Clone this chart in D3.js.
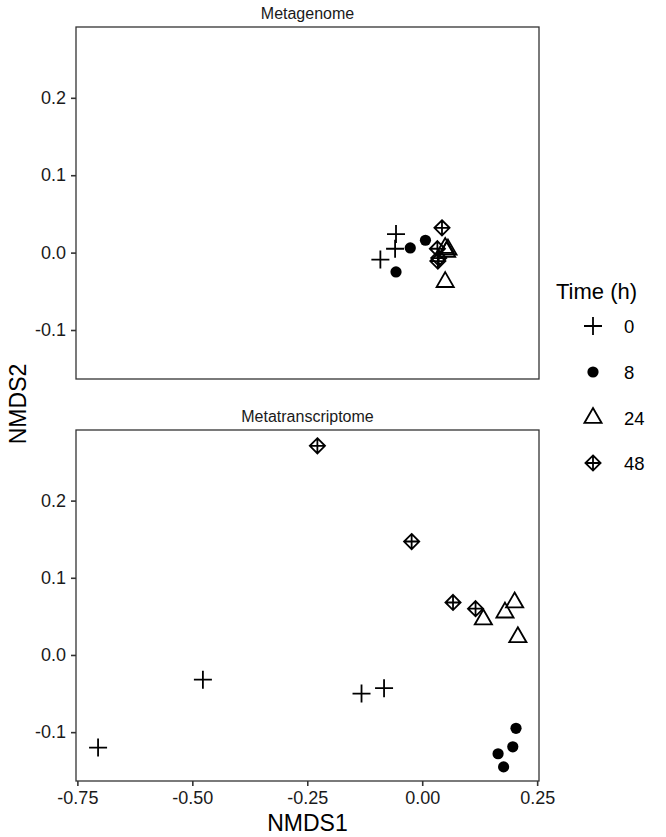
<!DOCTYPE html>
<html>
<head>
<meta charset="utf-8">
<script src="https://cdn.jsdelivr.net/npm/d3@7"></script>
<style>
  html, body { margin: 0; padding: 0; background: #fff; }
  svg { display: block; font-family: "Liberation Sans", Arial, Helvetica, sans-serif; }
</style>
</head>
<body>
<svg id="chart" width="666" height="837"></svg>
<script>
// ---------- DATA ----------
const panels = ["Metagenome", "Metatranscriptome"];
const timeLevels = ["0", "8", "24", "48"];
const xTicks = [-0.75, -0.50, -0.25, 0.00, 0.25];
const yTicks = [-0.1, 0.0, 0.1, 0.2];

// Metagenome: [NMDS1, NMDS2]
const mgT0  = [[-0.057, 0.024], [-0.059, 0.005], [-0.091, -0.009]];
const mgT8  = [[-0.026, 0.006], [0.007, 0.016], [-0.057, -0.025]];
const mgT24 = [[0.050, 0.006], [0.056, 0.004], [0.053, 0.001], [0.050, -0.038]];
const mgT48 = [[0.043, 0.032], [0.033, 0.005], [0.036, -0.007], [0.034, -0.011]];

// Metatranscriptome
const mtT0  = [[-0.705, -0.120], [-0.477, -0.032], [-0.132, -0.050], [-0.083, -0.043]];
const mtT8  = [[0.204, -0.095], [0.197, -0.119], [0.165, -0.128], [0.177, -0.145]];
const mtT24 = [[0.201, 0.068], [0.180, 0.055], [0.133, 0.046], [0.208, 0.023]];
const mtT48 = [[-0.228, 0.271], [-0.023, 0.147], [0.067, 0.068], [0.116, 0.060]];

const panelData = {
  "Metagenome": [mgT0, mgT8, mgT24, mgT48],
  "Metatranscriptome": [mtT0, mtT8, mtT24, mtT48]
};

// ---------- LAYOUT ----------
const svg = d3.select("#chart");
const left = 76, right = 539;
const panelBoxes = [{top: 27, bottom: 379}, {top: 430, bottom: 781}];
const ink = "#000";

const x = d3.scaleLinear().domain([-0.753, 0.254]).range([left, right]);

function drawSymbol(g, type, cx, cy) {
  const sw = 1.8;
  if (type === "0") {
    const r = 9;
    g.append("path").attr("d", `M${cx - r},${cy}H${cx + r}M${cx},${cy - r}V${cy + r}`)
      .attr("stroke", ink).attr("stroke-width", sw).attr("fill", "none");
  } else if (type === "8") {
    g.append("circle").attr("cx", cx).attr("cy", cy).attr("r", 5.6).attr("fill", ink);
  } else if (type === "24") {
    const s = 8.6;
    const h = s * Math.sqrt(3);
    g.append("path")
      .attr("d", `M${cx},${cy - h * 2 / 3}L${cx + s},${cy + h / 3}L${cx - s},${cy + h / 3}Z`)
      .attr("stroke", ink).attr("stroke-width", sw).attr("fill", "none").attr("stroke-linejoin", "miter");
  } else {
    const r = 7.6;
    g.append("path")
      .attr("d", `M${cx},${cy - r}L${cx + r},${cy}L${cx},${cy + r}L${cx - r},${cy}Z M${cx - r},${cy}H${cx + r}M${cx},${cy - r}V${cy + r}`)
      .attr("stroke", ink).attr("stroke-width", sw).attr("fill", "none").attr("stroke-linejoin", "miter");
  }
}

panels.forEach((name, i) => {
  const box = panelBoxes[i];
  const y = d3.scaleLinear().domain([-0.1633, 0.2915]).range([box.bottom, box.top]);
  const g = svg.append("g");

  // strip title
  g.append("text").attr("x", (left + right) / 2).attr("y", box.top - 8)
    .attr("text-anchor", "middle").attr("font-size", 16).attr("fill", "#1a1a1a").text(name);

  // y axis
  const yAxis = d3.axisLeft(y).tickValues(yTicks).tickFormat(d3.format(".1f")).tickSize(5).tickPadding(5);
  const ya = g.append("g").attr("transform", `translate(${left},0)`).call(yAxis);
  ya.select(".domain").remove();
  ya.selectAll(".tick line").attr("stroke", "#333").attr("stroke-width", 1.6);
  ya.selectAll(".tick text").attr("font-size", 18).attr("fill", "#1a1a1a")
    .attr("font-family", "Liberation Sans, Arial, sans-serif")
    .text(d => d3.format(".1f")(d).replace("−", "-"));

  // x axis only on bottom panel
  if (i === panels.length - 1) {
    const xAxis = d3.axisBottom(x).tickValues(xTicks).tickFormat(d3.format(".2f")).tickSize(5).tickPadding(5);
    const xa = g.append("g").attr("transform", `translate(0,${box.bottom})`).call(xAxis);
    xa.select(".domain").remove();
    xa.selectAll(".tick line").attr("stroke", "#333").attr("stroke-width", 1.6);
    xa.selectAll(".tick text").attr("font-size", 18).attr("fill", "#1a1a1a")
      .attr("font-family", "Liberation Sans, Arial, sans-serif")
      .text(d => d3.format(".2f")(d).replace("−", "-"));
  }

  // panel border
  g.append("rect").attr("x", left).attr("y", box.top)
    .attr("width", right - left).attr("height", box.bottom - box.top)
    .attr("fill", "none").attr("stroke", "#333").attr("stroke-width", 1.3);

  // points
  const pts = g.append("g");
  panelData[name].forEach((series, k) => {
    series.forEach(p => drawSymbol(pts, timeLevels[k], x(p[0]), y(p[1])));
  });
});

// axis titles
svg.append("text").attr("x", (left + right) / 2).attr("y", 831)
  .attr("text-anchor", "middle").attr("font-size", 23).attr("fill", "#000").text("NMDS1");
svg.append("text").attr("transform", `translate(26,404) rotate(-90)`)
  .attr("text-anchor", "middle").attr("font-size", 23).attr("fill", "#000").text("NMDS2");

// legend
const lg = svg.append("g");
lg.append("text").attr("x", 556).attr("y", 299).attr("font-size", 22).attr("fill", "#000").text("Time (h)");
const keyY = [326, 372, 418, 463];
timeLevels.forEach((t, k) => {
  drawSymbol(lg, t, 593, keyY[k]);
  lg.append("text").attr("x", 624).attr("y", keyY[k] + 6.5).attr("font-size", 18.5).attr("fill", "#000").text(t);
});
</script>
</body>
</html>
